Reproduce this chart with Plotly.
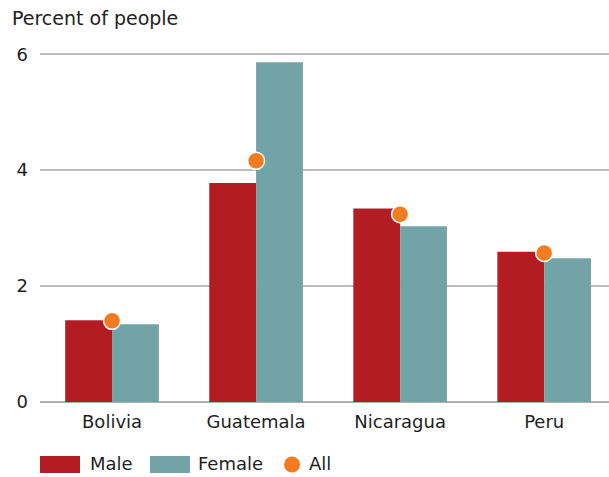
import plotly.graph_objects as go

categories = ["Bolivia", "Guatemala", "Nicaragua", "Peru"]
male = [1.41, 3.78, 3.34, 2.59]
female = [1.34, 5.86, 3.03, 2.48]
all_people = [1.40, 4.16, 3.24, 2.57]
y_ticks = [0, 2, 4, 6]
series_names = ["Male", "Female", "All"]

RED = "#B41C24"
TEAL = "#72A3A6"
ORANGE = "#F47B20"
FONT = "DejaVu Sans"
TXT = "#1E1E1E"
FS = 18

fig = go.Figure()
fig.add_trace(go.Bar(x=categories, y=male, name=series_names[0], marker_color=RED,
                     marker_line_width=0))
fig.add_trace(go.Bar(x=categories, y=female, name=series_names[1], marker_color=TEAL,
                     marker_line_width=0))
fig.add_trace(go.Scatter(x=categories, y=all_people, name=series_names[2], mode="markers",
                         marker=dict(color=ORANGE, size=17,
                                     line=dict(color="white", width=1.5))))

# custom legend (wide swatches like the reference)
ly0, ly1 = -0.1456, -0.1915
lyc_dot = -0.1685
lyc_txt = -0.166
fig.add_shape(type="rect", xref="paper", yref="paper", x0=0, x1=0.0703,
              y0=ly1, y1=ly0, fillcolor=RED, line_width=0)
fig.add_shape(type="rect", xref="paper", yref="paper", x0=0.1933, x1=0.2636,
              y0=ly1, y1=ly0, fillcolor=TEAL, line_width=0)
fig.add_shape(type="circle", xref="paper", yref="paper", x0=0.4429 - 0.0141,
              x1=0.4429 + 0.0141, y0=lyc_dot - 0.0216, y1=lyc_dot + 0.0216,
              fillcolor=ORANGE, line_width=0)
for name, xp in zip(series_names, [0.0879, 0.2777, 0.4728]):
    fig.add_annotation(text=name, xref="paper", yref="paper", x=xp, y=lyc_txt,
                       xanchor="left", yanchor="middle", showarrow=False,
                       xshift=-2, font=dict(family=FONT, size=FS, color=TXT))

fig.update_layout(
    width=609, height=477,
    margin=dict(l=40, r=0, t=31, b=75, autoexpand=False),
    paper_bgcolor="white", plot_bgcolor="white",
    font=dict(family=FONT, size=FS, color=TXT),
    barmode="group", bargap=0.35, bargroupgap=0,
    title=dict(text="Percent of people", x=12/609, xanchor="left",
               y=1 - 18/477, yanchor="middle", xref="container", yref="container",
               font=dict(family=FONT, size=19, color=TXT)),
    showlegend=False,
    xaxis=dict(range=[-0.5, 3.45], showgrid=False, showline=False, ticks="",
               zeroline=False, tickfont=dict(size=FS), automargin=False,
               ticklabelstandoff=7),
    yaxis=dict(range=[0, 6.4], tickvals=y_ticks, showgrid=True,
               gridcolor="#BDBDBD", gridwidth=1.5, zeroline=True,
               zerolinecolor="#AFAFAF", zerolinewidth=2, showline=False,
               ticks="", ticklabelstandoff=11, tickfont=dict(size=FS),
               automargin=False),
)

fig.write_html("out.html")
